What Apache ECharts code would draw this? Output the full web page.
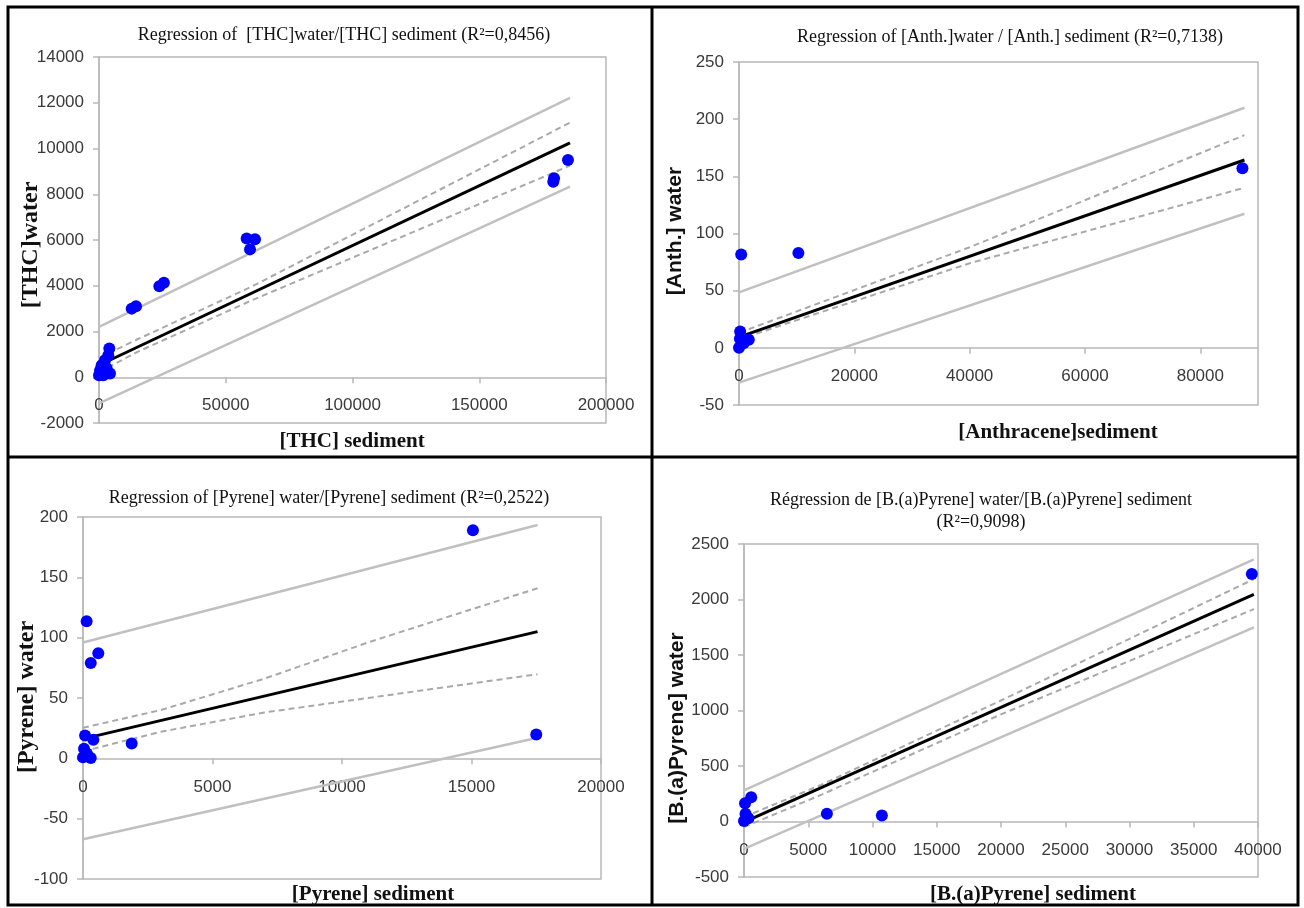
<!DOCTYPE html>
<html>
<head>
<meta charset="utf-8">
<script src="https://cdn.jsdelivr.net/npm/echarts@6/dist/echarts.min.js"></script>
<style>
  html, body { margin: 0; padding: 0; background: #fff; }
  #main { width: 1304px; height: 908px; }
</style>
</head>
<body>
<div id="main"></div>
<script>
// THC
const thcPoints = [[0, 90], [400, 300], [1050, 525], [1700, 90], [2370, 745], [3030, 390], [3680, 960],
  [4070, 1255], [4340, 160], [12900, 3000], [14600, 3100], [23800, 3980], [25600, 4130],
  [58250, 6070], [59570, 5590], [61540, 6030], [179200, 8550], [179500, 8700], [185000, 9500]];
const thcFit = [[0, 525], [185800, 10250]];
const thcConfUp = [[0, 850], [15000, 1650], [60000, 3950], [185800, 11130]];
const thcConfLow = [[0, 220], [15000, 1100], [60000, 3350], [185800, 9250]];
const thcPredUp = [[0, 2200], [185800, 12210]];
const thcPredLow = [[0, -1140], [185800, 8330]];

// Anthracene
const anthPoints = [[380, 81.6], [10300, 83], [200, 14.3], [150, 8], [0, 0], [1700, 7], [800, 4], [87300, 157]];
const anthFit = [[0, 9.4], [87650, 164.3]];
const anthConfUp = [[0, 14], [1800, 16.5], [40000, 88], [87650, 186]];
const anthConfLow = [[0, 4], [1800, 10.5], [40000, 74], [87650, 140]];
const anthPredUp = [[0, 48.5], [87650, 210]];
const anthPredLow = [[0, -30.4], [87650, 117.3]];

// Pyrene
const pyrPoints = [[140, 113.6], [590, 87], [300, 79], [80, 19], [400, 15.3], [1880, 12.3], [40, 8],
  [0, 0.8], [300, 0.3], [150, 4], [15055, 189], [17500, 19.7]];
const pyrFit = [[0, 16.1], [17550, 105]];
const pyrConfUp = [[0, 25.3], [3000, 40], [7000, 66], [11000, 96], [17550, 141]];
const pyrConfLow = [[0, 5.8], [3000, 22], [7000, 38], [11000, 50], [17550, 69.7]];
const pyrPredUp = [[0, 96], [17550, 193.3]];
const pyrPredLow = [[0, -67], [17550, 17]];

// Benzo(a)pyrene
const bapPoints = [[560, 219], [80, 165], [120, 69], [350, 30], [0, 5], [6450, 69], [10730, 54], [39520, 2229]];
const bapFit = [[0, -6], [39680, 2046]];
const bapConfUp = [[0, 40], [6000, 330], [20000, 1090], [39680, 2184]];
const bapConfLow = [[0, -50], [6000, 240], [20000, 965], [39680, 1913]];
const bapPredUp = [[0, 280], [39680, 2362]];
const bapPredLow = [[0, -246], [39680, 1748]];

// axis ranges: [min, max, interval]
const xRanges = [[0, 200000, 50000], [0, 90000, 20000], [0, 20000, 5000], [0, 40000, 5000]];
const yRanges = [[-2000, 14000, 2000], [-50, 250, 50], [-100, 200, 50], [-500, 2500, 500]];

const titles = [
  ['Regression of  [THC]water/[THC] sediment (R²=0,8456)', 344, 35],
  ['Regression of [Anth.]water / [Anth.] sediment (R²=0,7138)', 1010, 37],
  ['Regression of [Pyrene] water/[Pyrene] sediment (R²=0,2522)', 329, 498],
  ['Régression de [B.(a)Pyrene] water/[B.(a)Pyrene] sediment', 981, 500],
  ['(R²=0,9098)', 981, 522]
];
const xNames = [
  ['[THC] sediment', 352, 442],
  ['[Anthracene]sediment', 1058, 433],
  ['[Pyrene] sediment', 373, 895],
  ['[B.(a)Pyrene] sediment', 1033, 895]
];
const yNames = [
  ['[THC]water', 31, 245, 'bold 24px "Liberation Serif", "Times New Roman", serif'],
  ['[Anth.] water', 675, 231, 'bold 21px "Liberation Sans", Arial, sans-serif'],
  ['[Pyrene] water', 27, 697, 'bold 24px "Liberation Serif", "Times New Roman", serif'],
  ['[B.(a)Pyrene] water', 677, 728, 'bold 21px "Liberation Sans", Arial, sans-serif']
];

const grids = [
  { left: 99, top: 57, width: 507, height: 366 },
  { left: 739, top: 62, width: 519, height: 343 },
  { left: 83, top: 517, width: 518, height: 362 },
  { left: 744, top: 544, width: 514, height: 333 }
];

const AXIS_GRAY = '#b8b8b8';
const labelStyle = { color: '#3a3a3a', fontSize: 17, fontFamily: '"Liberation Sans", Arial, sans-serif' };

const chart = echarts.init(document.getElementById('main'), null, { renderer: 'canvas' });

// x axis sits on the y=0 line (Excel style), labels follow it
const xAxis = xRanges.map((r, i) => {
  const yr = yRanges[i];
  const zeroShift = grids[i].height * (0 - yr[0]) / (yr[1] - yr[0]);
  return {
    type: 'value', gridIndex: i, min: r[0], max: r[1], interval: r[2],
    offset: -zeroShift,
    axisLine: { onZero: false, lineStyle: { color: AXIS_GRAY, width: 1.5 } },
    axisTick: { show: true, length: 6, lineStyle: { color: AXIS_GRAY, width: 1.5 } },
    axisLabel: Object.assign({ margin: 20, showMaxLabel: i !== 1, formatter: v => String(v) }, labelStyle),
    splitLine: { show: false }
  };
});

const yAxis = yRanges.map((r, i) => ({
  type: 'value', gridIndex: i, min: r[0], max: r[1], interval: r[2],
  axisLine: { show: true, onZero: false, lineStyle: { color: AXIS_GRAY, width: 1.5 } },
  axisTick: { show: true, length: 6, lineStyle: { color: AXIS_GRAY, width: 1.5 } },
  axisLabel: Object.assign({ margin: 15, formatter: v => String(v) }, labelStyle),
  splitLine: { show: false }
}));

function lineSeries(i, data, kind) {
  const styles = {
    fit: { color: '#000', width: 3, type: 'solid' },
    conf: { color: '#a9a9a9', width: 2, type: [6, 4] },
    pred: { color: '#c0c0c0', width: 2.5, type: 'solid' }
  };
  return {
    type: 'line', xAxisIndex: i, yAxisIndex: i, data: data,
    symbol: 'none', silent: true, z: kind === 'fit' ? 4 : 3,
    lineStyle: styles[kind]
  };
}

function scatterSeries(i, data) {
  return {
    type: 'scatter', xAxisIndex: i, yAxisIndex: i, data: data,
    symbolSize: 12, itemStyle: { color: '#0000ff', opacity: 1 }, z: 5
  };
}

const panels = [
  [thcPoints, thcFit, thcConfUp, thcConfLow, thcPredUp, thcPredLow],
  [anthPoints, anthFit, anthConfUp, anthConfLow, anthPredUp, anthPredLow],
  [pyrPoints, pyrFit, pyrConfUp, pyrConfLow, pyrPredUp, pyrPredLow],
  [bapPoints, bapFit, bapConfUp, bapConfLow, bapPredUp, bapPredLow]
];

const series = [];
panels.forEach((p, i) => {
  series.push(lineSeries(i, p[4], 'pred'));
  series.push(lineSeries(i, p[5], 'pred'));
  series.push(lineSeries(i, p[2], 'conf'));
  series.push(lineSeries(i, p[3], 'conf'));
  series.push(lineSeries(i, p[1], 'fit'));
  series.push(scatterSeries(i, p[0]));
});

const graphic = [];
// frame
graphic.push({ type: 'rect', shape: { x: 8, y: 7, width: 1290, height: 898 },
  style: { fill: null, stroke: '#000', lineWidth: 3 }, z: 10 });
graphic.push({ type: 'line', shape: { x1: 652, y1: 7, x2: 652, y2: 905 },
  style: { stroke: '#000', lineWidth: 3 }, z: 10 });
graphic.push({ type: 'line', shape: { x1: 8, y1: 457, x2: 1298, y2: 457 },
  style: { stroke: '#000', lineWidth: 3 }, z: 10 });

titles.forEach(t => graphic.push({
  type: 'text', x: t[1], y: t[2], z: 10,
  style: { text: t[0], font: '18px "Liberation Serif", "Times New Roman", serif', fill: '#111',
    textAlign: 'center', textVerticalAlign: 'middle' }
}));
xNames.forEach(t => graphic.push({
  type: 'text', x: t[1], y: t[2], z: 10,
  style: { text: t[0], font: 'bold 21px "Liberation Serif", "Times New Roman", serif', fill: '#111',
    textAlign: 'center', textVerticalAlign: 'middle' }
}));
yNames.forEach(t => graphic.push({
  type: 'text', x: t[1], y: t[2], rotation: Math.PI / 2, z: 10,
  style: { text: t[0], font: t[3], fill: '#111', textAlign: 'center', textVerticalAlign: 'middle' }
}));

chart.setOption({
  animation: false,
  backgroundColor: '#fff',
  grid: grids.map(g => Object.assign({ show: true, borderColor: AXIS_GRAY, borderWidth: 1.5,
    backgroundColor: 'transparent', containLabel: false }, g)),
  xAxis: xAxis,
  yAxis: yAxis,
  series: series,
  graphic: graphic
});
</script>
</body>
</html>
